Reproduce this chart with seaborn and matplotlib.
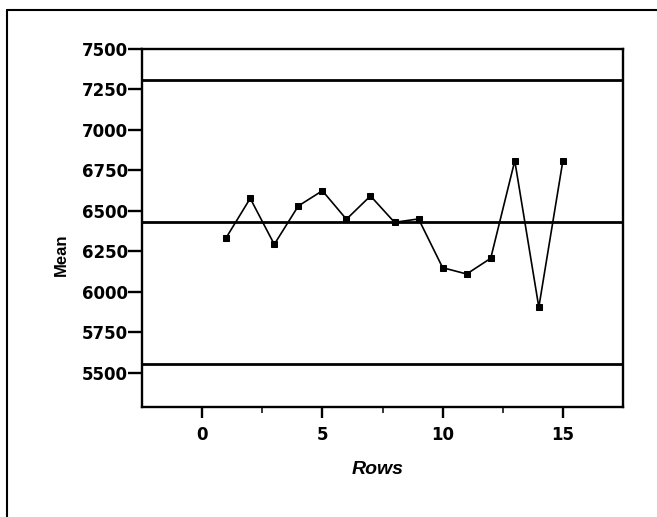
import matplotlib
matplotlib.use("Agg")
import matplotlib.pyplot as plt
from matplotlib.lines import Line2D
from matplotlib.ticker import FixedLocator
import seaborn as sns
import pandas as pd

# Subgroup means by row
rows = [1, 2, 3, 4, 5, 6, 7, 8, 9, 10, 11, 12, 13, 14, 15]
means = [6335, 6578, 6294, 6531, 6625, 6449, 6593, 6430, 6451,
         6150, 6111, 6208, 6810, 5906, 6810]

# Control limits
ucl = 7310
center = 6432
lcl = 5555

y_ticks = [5500, 5750, 6000, 6250, 6500, 6750, 7000, 7250, 7500]
x_ticks = [0, 5, 10, 15]
x_minor = [2.5, 7.5, 12.5]

sns.set_theme(style="white")
plt.rcParams["font.family"] = ["Liberation Sans", "DejaVu Sans"]

df = pd.DataFrame({"Rows": rows, "Mean": means})

fig = plt.figure(figsize=(6.57, 5.17), dpi=100)
ax = fig.add_axes([142 / 657, 1 - 407 / 517, (623 - 142) / 657, (407 - 49) / 517])

for yv in (ucl, center, lcl):
    ax.axhline(yv, color="black", lw=2.0, zorder=1)

sns.lineplot(data=df, x="Rows", y="Mean", ax=ax, color="black", lw=1.2,
             marker="s", markersize=4.5, markeredgecolor="black", zorder=3)

ax.set_xlim(-2.5, 17.5)
ax.set_ylim(5290, 7500)
ax.set_yticks(y_ticks)
ax.set_yticklabels([str(v) for v in y_ticks])
ax.set_xticks(x_ticks)
ax.set_xticklabels([str(v) for v in x_ticks])
ax.xaxis.set_minor_locator(FixedLocator(x_minor))

for sp in ax.spines.values():
    sp.set_visible(True)
    sp.set_color("black")
    sp.set_linewidth(1.7)

ax.tick_params(axis="y", which="major", direction="out", length=10, width=1.7,
               left=True, labelsize=12, pad=0, colors="black")
ax.tick_params(axis="x", which="major", direction="out", length=8, width=1.7,
               bottom=True, labelsize=12, pad=6, colors="black")
ax.tick_params(axis="x", which="minor", direction="out", length=4.5, width=1.3,
               bottom=True)
for lab in ax.get_xticklabels() + ax.get_yticklabels():
    lab.set_fontweight("bold")
    lab.set_family("DejaVu Sans")

ax.set_ylabel("Mean", fontsize=12, fontweight="bold", color="black")
ax.yaxis.set_label_coords(-0.152, 0.425)
ax.set_xlabel("Rows", fontsize=14, fontweight="bold", style="italic",
              color="black")
ax.xaxis.set_label_coords(0.49, -0.151)

# Outer frame along the top and left edges of the figure
fig.add_artist(Line2D([7 / 657, 1.0], [1 - 10 / 517, 1 - 10 / 517],
                      transform=fig.transFigure, color="black", lw=1.5))
fig.add_artist(Line2D([7 / 657, 7 / 657], [0.0, 1 - 10 / 517],
                      transform=fig.transFigure, color="black", lw=1.5))

fig.savefig("out.png", dpi=100, facecolor="white")
